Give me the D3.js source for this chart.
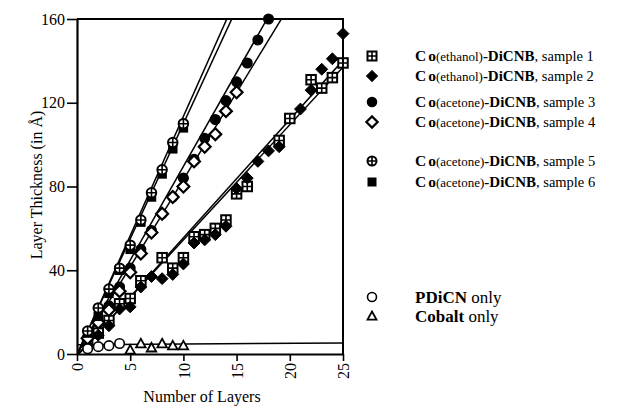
<!DOCTYPE html>
<html>
<head>
<meta charset="utf-8">
<script src="https://cdn.jsdelivr.net/npm/d3@7"></script>
<style>
  body { margin: 0; background: #fff; }
  text { font-family: "Liberation Serif", "Times New Roman", serif; fill: #000; }
</style>
</head>
<body>
<div id="chart"></div>
<script>
// layer counts and measured thickness (Å) per sample
var s1Layers = [1, 2, 3, 4, 5, 6, 8, 9, 10, 11, 12, 13, 14, 15, 16, 19, 20, 22, 23, 24, 25],
    s1Thick = [6, 10, 16, 24, 26.5, 35, 46, 41, 46, 56, 57, 60, 64, 76.5, 80, 102, 112.5, 131, 127, 132, 139];
var s2Layers = [1, 2, 3, 4, 5, 6, 7, 8, 9, 10, 11, 12, 13, 14, 15, 16, 17, 18, 19, 21, 22, 23, 24, 25],
    s2Thick = [4, 9, 13.5, 21.5, 22.5, 32, 37, 36, 38, 43, 53, 54.5, 57, 61, 79, 84, 92, 97, 99, 117, 126, 136, 141, 153];
var s3Layers = [1, 2, 3, 4, 5, 6, 7, 8, 9, 10, 11, 12, 13, 14, 15, 16, 17, 18],
    s3Thick = [8, 15, 23, 32, 41, 50, 59, 67, 75, 84, 93, 103, 112, 121, 130, 139, 150, 160];
var s4Layers = [1, 2, 3, 4, 5, 6, 7, 8, 9, 10, 11, 12, 13, 14, 15],
    s4Thick = [7.5, 15, 21, 30, 39, 48, 58, 67, 75, 80, 92, 99, 105, 116, 125];
var s5Layers = [1, 2, 3, 4, 5, 6, 7, 8, 9, 10],
    s5Thick = [11, 22, 31, 41, 52, 64, 77, 88, 101, 110];
var s6Layers = [1, 2, 3, 4, 5, 6, 7, 8, 9, 10],
    s6Thick = [10, 18, 29, 40, 50, 63, 75, 86, 98, 108];
var pdicnLayers = [1, 2, 3, 4],
    pdicnThick = [2.5, 3.5, 4, 5];
var cobaltLayers = [5, 6, 7, 8, 9, 10],
    cobaltThick = [2, 5, 3, 5, 4, 4];

// least-squares lines as drawn on the figure
var fitSlopes = [11.4, 11.0, 8.96, 8.33, 5.65, 5.5, 0.036],
    fitIntercepts = [-0.5, 0, 0, 0, -1, -0.5, 4.4];

var xTicks = [0, 5, 10, 15, 20, 25],
    yTicks = [0, 40, 80, 120, 160];

var sampleNo = ["1", "2", "3", "4", "5", "6"],
    solvent = ["ethanol", "ethanol", "acetone", "acetone", "acetone", "acetone"];

var series = [
    {layers: s1Layers, thick: s1Thick, sym: "sqcross"},
    {layers: s2Layers, thick: s2Thick, sym: "diamondFill"},
    {layers: s3Layers, thick: s3Thick, sym: "circleFill"},
    {layers: s4Layers, thick: s4Thick, sym: "diamondOpen"},
    {layers: s6Layers, thick: s6Thick, sym: "squareFill"},
    {layers: s5Layers, thick: s5Thick, sym: "circlePlus"},
    {layers: pdicnLayers, thick: pdicnThick, sym: "circleOpen"},
    {layers: cobaltLayers, thick: cobaltThick, sym: "triangleOpen"}
];

var width = 625, height = 408;
var svg = d3.select("#chart").append("svg")
    .attr("width", width)
    .attr("height", height);

var x = d3.scaleLinear().domain([0, 25]).range([77, 343]),
    y = d3.scaleLinear().domain([0, 160]).range([354, 19]);

svg.append("clipPath").attr("id", "plotclip")
    .append("rect")
    .attr("x", x(0)).attr("y", y(160))
    .attr("width", x(25) - x(0)).attr("height", y(0) - y(160));

// marker drawing
function marker(g, sym, s) {
    var h = s / 2;
    if (sym === "sqcross") {
        g.append("rect").attr("x", -h).attr("y", -h).attr("width", s).attr("height", s)
            .attr("fill", "#fff").attr("stroke", "#000").attr("stroke-width", 2);
        g.append("path").attr("d", "M0," + (-h) + "V" + h + "M" + (-h) + ",0H" + h)
            .attr("stroke", "#000").attr("stroke-width", 1.6);
    } else if (sym === "diamondFill" || sym === "diamondOpen") {
        var r = h * 1.25;
        g.append("path").attr("d", "M0," + (-r) + "L" + r + ",0L0," + r + "L" + (-r) + ",0Z")
            .attr("fill", sym === "diamondFill" ? "#000" : "#fff")
            .attr("stroke", "#000").attr("stroke-width", sym === "diamondFill" ? 1 : 2.2);
    } else if (sym === "circleFill" || sym === "circleOpen") {
        g.append("circle").attr("r", h)
            .attr("fill", sym === "circleFill" ? "#000" : "#fff")
            .attr("stroke", "#000").attr("stroke-width", 1.6);
    } else if (sym === "circlePlus") {
        g.append("circle").attr("r", h)
            .attr("fill", "#fff").attr("stroke", "#000").attr("stroke-width", 2);
        g.append("path").attr("d", "M0," + (-h) + "V" + h + "M" + (-h) + ",0H" + h)
            .attr("stroke", "#000").attr("stroke-width", 1.6);
    } else if (sym === "squareFill") {
        g.append("rect").attr("x", -h).attr("y", -h).attr("width", s).attr("height", s)
            .attr("fill", "#000");
    } else if (sym === "triangleOpen") {
        g.append("path").attr("d", "M0," + (-h) + "L" + h + "," + (h * 0.8) + "L" + (-h) + "," + (h * 0.8) + "Z")
            .attr("fill", "#fff").attr("stroke", "#000").attr("stroke-width", 1.8);
    }
}

// fit lines
var fits = fitSlopes.map(function (m, i) { return {m: m, b: fitIntercepts[i]}; });
svg.append("g").attr("clip-path", "url(#plotclip)")
    .selectAll("line")
    .data(fits)
    .enter().append("line")
    .attr("x1", x(0)).attr("x2", x(25))
    .attr("y1", function (d) { return y(d.b); })
    .attr("y2", function (d) { return y(d.m * 25 + d.b); })
    .attr("stroke", "#000")
    .attr("stroke-width", 1.5);

// points
series.forEach(function (ser) {
    var pts = ser.layers.map(function (l, i) { return [l, ser.thick[i]]; });
    svg.append("g").selectAll("g")
        .data(pts)
        .enter().append("g")
        .attr("transform", function (d) { return "translate(" + x(d[0]) + "," + y(d[1]) + ")"; })
        .each(function () { marker(d3.select(this), ser.sym, 9.5); });
});

// frame and axes
svg.append("path")
    .attr("d", "M" + x(0) + "," + y(160) + "H" + x(25) + "V" + y(0))
    .attr("fill", "none").attr("stroke", "#000").attr("stroke-width", 2);

var yAxis = svg.append("g")
    .attr("transform", "translate(" + x(0) + ",0)")
    .call(d3.axisLeft(y).tickValues(yTicks).tickSize(10).tickSizeOuter(0).tickPadding(2));
var xAxis = svg.append("g")
    .attr("transform", "translate(0," + y(0) + ")")
    .call(d3.axisBottom(x).tickValues(xTicks).tickSize(7).tickSizeOuter(0));

[yAxis, xAxis].forEach(function (a) {
    a.select(".domain").attr("stroke-width", 2.2);
    a.selectAll(".tick line").attr("stroke-width", 1.6);
    a.selectAll("text").style("font-family", "Liberation Serif").style("font-size", "16px");
});
xAxis.selectAll("text")
    .attr("transform", "rotate(-90)")
    .attr("text-anchor", "end")
    .attr("x", -9).attr("y", 0).attr("dy", "0.35em");

svg.append("text")
    .attr("x", 202).attr("y", 402)
    .attr("text-anchor", "middle")
    .style("font-size", "16px")
    .text("Number of Layers");

svg.append("text")
    .attr("transform", "translate(42,185) rotate(-90)")
    .attr("text-anchor", "middle")
    .style("font-size", "16px")
    .text("Layer Thickness (in Å)");

// legend
var legendRows = [56, 76, 102, 122, 161, 182],
    legendSyms = ["sqcross", "diamondFill", "circleFill", "diamondOpen", "circlePlus", "squareFill"];

sampleNo.forEach(function (n, i) {
    var g = svg.append("g").attr("transform", "translate(0," + legendRows[i] + ")");
    marker(g.append("g").attr("transform", "translate(372,0)"), legendSyms[i], 9);
    var t = g.append("text").attr("x", 415).attr("dy", "0.35em").style("font-size", "14.5px");
    t.append("tspan").style("font-weight", "bold").style("font-size", "15.5px").text("C");
    t.append("tspan").attr("dx", 2).style("font-weight", "bold").style("font-size", "15.5px").text("o");
    t.append("tspan").style("font-size", "13px").text("(" + solvent[i] + ")");
    t.append("tspan").style("font-weight", "bold").style("font-size", "15px").text("-DiCNB");
    t.append("tspan").text(", sample " + n);
});

[["PDiCN", "circleOpen", 297], ["Cobalt", "triangleOpen", 316]].forEach(function (r) {
    var g = svg.append("g").attr("transform", "translate(0," + r[2] + ")");
    marker(g.append("g").attr("transform", "translate(372,0)"), r[1], 9);
    var t = g.append("text").attr("x", 415).attr("dy", "0.35em").style("font-size", "17px");
    t.append("tspan").style("font-weight", "bold").text(r[0]);
    t.append("tspan").text(" only");
});
</script>
</body>
</html>
